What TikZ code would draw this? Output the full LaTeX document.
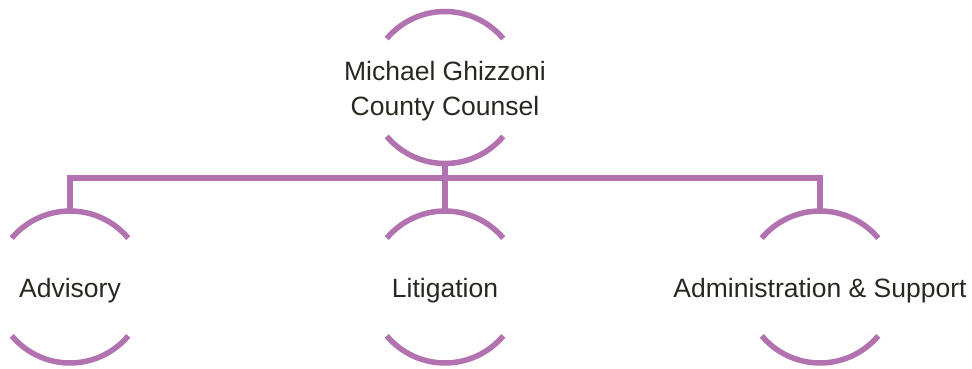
\documentclass[tikz,border=0pt]{standalone}
\usepackage{fontspec}
\setmainfont{Liberation Sans}
\definecolor{arcpurple}{RGB}{178,114,176}
\definecolor{txt}{RGB}{40,40,34}
\begin{document}
\begin{tikzpicture}[x=1pt,y=-1pt,
  ring/.style={circle,minimum size=152pt,inner sep=0pt,outer sep=0pt},
  lbl/.style={font=\fontsize{26.5}{35}\selectfont,text=txt,align=center,inner sep=0pt,yshift=-3.5pt},
  arcline/.style={draw=arcpurple,line width=5.5pt,line cap=butt},
  link/.style={draw=arcpurple,line width=5.5pt,line join=miter}]
\useasboundingbox (0,0) rectangle (972,369);
% nodes
\node[ring] (top) at (445,87.5) {};
\node[ring] (adv) at (70,287) {};
\node[ring] (lit) at (445,287) {};
\node[ring] (adm) at (820,287) {};
\node[lbl] (toptxt) at (top.center) {Michael Ghizzoni\\County Counsel};
\node[lbl] (advtxt) at (adv.center) {Advisory};
\node[lbl] (littxt) at (lit.center) {Litigation};
\node[lbl] (admtxt) at (adm.center) {Administration \& Support};
% arcs
\foreach \n in {top,adv,lit,adm}{
  \draw[arcline] (\n.40) arc[start angle=-40,end angle=-140,radius=76];
  \draw[arcline] (\n.220) arc[start angle=-220,end angle=-320,radius=76];
}
% connectors
\coordinate (bus) at (445,178);
\draw[link] (top.south) -- (bus);
\draw[link] (adv.north) -- (adv.north |- bus) -- (adm.north |- bus) -- (adm.north);
\draw[link] (bus) -- (lit.north);
\end{tikzpicture}
\end{document}
